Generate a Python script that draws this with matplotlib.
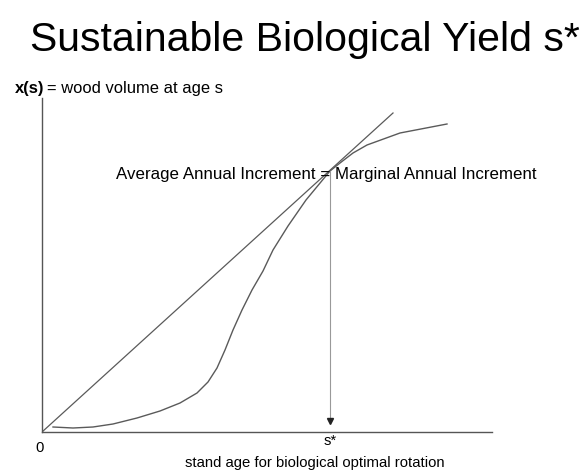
import matplotlib
matplotlib.use("Agg")
import matplotlib.pyplot as plt

# Data (chart units: stand age on x, wood volume on y)
age = [11, 31, 51, 71, 95, 118, 138, 155, 166, 175, 183, 191, 200, 210, 221, 231,
       246, 264, 288, 298, 311, 325, 358, 405]
volume = [5, 4, 5, 8, 14, 21, 29, 39, 50, 64, 82, 102, 122, 142, 161, 182,
          206, 232, 261, 269, 279, 287, 299, 308]
ray_x = [0, 351]
ray_y = [0, 319]
s_star = 288
s_star_vol = 261

plt.rcParams['font.family'] = ['Liberation Sans', 'DejaVu Sans']
W, H = 587, 472
fig = plt.figure(figsize=(W/100, H/100), dpi=100)
ax = fig.add_axes([42/W, 40/H, 450/W, 334/H])
ax.set_xlim(0, 450)
ax.set_ylim(0, 334)
for s in ['top', 'right']:
    ax.spines[s].set_visible(False)
for s in ['left', 'bottom']:
    ax.spines[s].set_color('#555555')
    ax.spines[s].set_linewidth(1.0)
ax.set_xticks([])
ax.set_yticks([])

lc = '#5a5a5a'
ax.plot(age, volume, color=lc, lw=1.0, solid_joinstyle='round')
ax.plot(ray_x, ray_y, color=lc, lw=0.9)
ax.plot([s_star, s_star], [s_star_vol, 12], color='#999999', lw=0.8)
ax.plot([s_star], [11], marker='v', color='#222222', markersize=4, linestyle='none')

fig.text(305/W, 1 - 40/H, 'Sustainable Biological Yield s*', fontsize=29.5,
         ha='center', va='center', color='black')

# y-axis caption: bold "x(s)" followed by normal text
fig.canvas.draw()
r = fig.canvas.get_renderer()
t1 = fig.text(15/W, 1 - 88/H, 'x(s)', fontsize=11.9, ha='left', va='center', fontweight='bold')
bb = t1.get_window_extent(renderer=r)
fig.text((bb.x1 + 3)/W, 1 - 88/H, '= wood volume at age s', fontsize=11.9, ha='left', va='center')

ax.text(s_star - 4, s_star_vol - 4, 'Average Annual Increment = Marginal Annual Increment',
        fontsize=12.2, ha='center', va='center')
fig.text(40/W, 1 - 448/H, '0', fontsize=10.7, ha='center', va='center')
fig.text(330/W, 1 - 441/H, 's*', fontsize=10.7, ha='center', va='center')
fig.text(315/W, 1 - 463/H, 'stand age for biological optimal rotation', fontsize=10.7,
         ha='center', va='center')

fig.savefig('out.png', dpi=100)
